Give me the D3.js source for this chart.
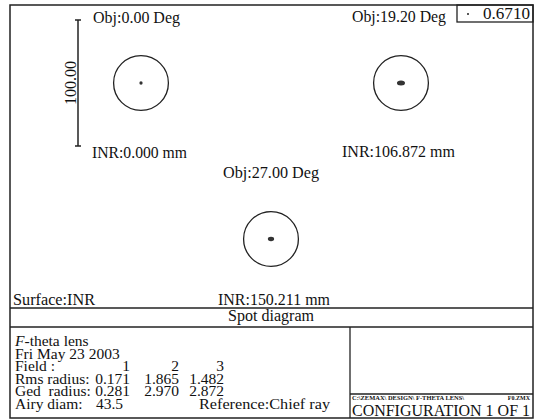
<!DOCTYPE html>
<html>
<head>
<meta charset="utf-8">
<script src="https://cdn.jsdelivr.net/npm/d3@7"></script>
<style>
  body { margin: 0; background: #fff; }
  svg { display: block; }
  text { font-family: "Liberation Serif", "Times New Roman", serif; fill: #111; }
</style>
</head>
<body>
<svg id="chart" width="538" height="420"></svg>
<script>
// Spot diagram data for the F-theta lens (three field points)
const fieldAngles = [0.00, 19.20, 27.00];          // object field, deg
const imageHeights = [0.000, 106.872, 150.211];    // image height on INR, mm
const rmsRadius = [0.171, 1.865, 1.482];           // µm
const geoRadius = [0.281, 2.970, 2.872];           // µm
const spotHalfWidth = [1.3, 3.2, 2.5];             // µm, visible spot blur (x)
const spotHalfHeight = [1.3, 2.0, 1.7];            // µm, visible spot blur (y)
const airyDiam = 43.5;                             // µm
const scaleBarLength = 100.00;                     // µm
const wavelengths = [0.6710];                      // µm
const fieldNumbers = [1, 2, 3];

const svg = d3.select("#chart");
const ink = "#222";

// Frame geometry
const frame = { left: 10, top: 5, right: 533, bottom: 418 };
const plotBottom = 308, titleBottom = 327, splitX = 350, configLine = 394;

// Micrometre to pixel scale shared by every spot panel
const um = d3.scaleLinear().domain([0, scaleBarLength]).range([0, 126]);

// Panel centres and label placement on the page
const panels = [
  { cx: 141, cy: 83, objX: 93, objW: 87, objY: 23, inrX: 92, inrW: 95, inrY: 158 },
  { cx: 401, cy: 83, objX: 352, objW: 94, objY: 22, inrX: 342, inrW: 113, inrY: 157 },
  { cx: 271, cy: 239, objX: 223, objW: 96, objY: 178, inrX: 218, inrW: 112, inrY: 305 }
];

// Outer frame and dividers
svg.append("rect")
  .attr("x", frame.left).attr("y", frame.top)
  .attr("width", frame.right - frame.left).attr("height", frame.bottom - frame.top)
  .attr("fill", "none").attr("stroke", ink).attr("stroke-width", 1.5);

svg.selectAll("line.h").data([plotBottom, titleBottom]).join("line").attr("class", "h")
  .attr("x1", frame.left).attr("x2", frame.right)
  .attr("y1", d => d).attr("y2", d => d)
  .attr("stroke", ink).attr("stroke-width", 1.3);
svg.append("line")
  .attr("x1", splitX).attr("x2", splitX).attr("y1", titleBottom).attr("y2", frame.bottom)
  .attr("stroke", ink).attr("stroke-width", 1.3);
svg.append("line")
  .attr("x1", splitX).attr("x2", frame.right).attr("y1", configLine).attr("y2", configLine)
  .attr("stroke", ink).attr("stroke-width", 1.3);

// Wavelength legend box
const legend = svg.append("g");
legend.append("rect")
  .attr("x", 457).attr("y", frame.top).attr("width", frame.right - 457).attr("height", 17)
  .attr("fill", "none").attr("stroke", ink).attr("stroke-width", 1.3);
legend.selectAll("circle").data(wavelengths).join("circle")
  .attr("cx", 468).attr("cy", 14).attr("r", 1).attr("fill", ink);
legend.selectAll("text").data(wavelengths).join("text")
  .attr("x", 483).attr("y", 19)
  .attr("textLength", 47).attr("lengthAdjust", "spacingAndGlyphs")
  .style("font-size", "16px").text(d => d3.format(".4f")(d));

// Scale bar
const barX = 78, barMid = panels[0].cy;
const bar = svg.append("g");
bar.append("line")
  .attr("x1", barX).attr("x2", barX)
  .attr("y1", barMid - um(scaleBarLength) / 2).attr("y2", barMid + um(scaleBarLength) / 2)
  .attr("stroke", ink).attr("stroke-width", 1.5);
bar.selectAll("line.tick").data([-1, 1]).join("line").attr("class", "tick")
  .attr("x1", barX - 3).attr("x2", barX + 3)
  .attr("y1", s => barMid + s * um(scaleBarLength) / 2)
  .attr("y2", s => barMid + s * um(scaleBarLength) / 2)
  .attr("stroke", ink).attr("stroke-width", 1.5);
bar.append("text")
  .attr("transform", `translate(${barX - 2},${barMid}) rotate(-90)`)
  .attr("text-anchor", "middle")
  .attr("textLength", 44).attr("lengthAdjust", "spacingAndGlyphs")
  .style("font-size", "17px")
  .text(d3.format(".2f")(scaleBarLength));

// Spot panels
const fields = fieldNumbers.map((n, i) => ({
  n, angle: fieldAngles[i], height: imageHeights[i],
  hw: spotHalfWidth[i], hh: spotHalfHeight[i], ...panels[i]
}));

const g = svg.selectAll("g.field").data(fields).join("g").attr("class", "field");
g.append("circle")
  .attr("cx", d => d.cx).attr("cy", d => d.cy)
  .attr("r", um(airyDiam / 2))
  .attr("fill", "none").attr("stroke", ink).attr("stroke-width", 1.3);
g.append("ellipse")
  .attr("cx", d => d.cx).attr("cy", d => d.cy)
  .attr("rx", d => um(d.hw)).attr("ry", d => um(d.hh))
  .attr("fill", "#333");
g.append("text")
  .attr("x", d => d.objX).attr("y", d => d.objY)
  .attr("textLength", d => d.objW).attr("lengthAdjust", "spacingAndGlyphs")
  .style("font-size", "17px")
  .text(d => `Obj:${d3.format(".2f")(d.angle)} Deg`);
g.append("text")
  .attr("x", d => d.inrX).attr("y", d => d.inrY)
  .attr("textLength", d => d.inrW).attr("lengthAdjust", "spacingAndGlyphs")
  .style("font-size", "17px")
  .text(d => `INR:${d3.format(".3f")(d.height)} mm`);

svg.append("text").attr("x", 13).attr("y", 305)
  .attr("textLength", 82).attr("lengthAdjust", "spacingAndGlyphs")
  .style("font-size", "17px").text("Surface:INR");
svg.append("text").attr("x", 228).attr("y", 321)
  .attr("textLength", 86).attr("lengthAdjust", "spacingAndGlyphs")
  .style("font-size", "16px").text("Spot diagram");

// Info block
const info = svg.append("g").style("font-size", "15.5px");
const infoX = 15;
const lineY = [346, 358.5, 371, 383.5, 396, 408.5];
const t0 = info.append("text").attr("x", infoX).attr("y", lineY[0]);
t0.append("tspan").style("font-style", "italic").text("F");
t0.append("tspan").text("-theta lens");
info.append("text").attr("x", infoX).attr("y", lineY[1]).text("Fri May 23 2003");
const colX = [130, 179, 224];
const rows = [
  { label: "Field :", vals: fieldNumbers.map(String), y: lineY[2] },
  { label: "Rms radius:", vals: rmsRadius.map(d3.format(".3f")), y: lineY[3] },
  { label: "Ged  radius:", vals: geoRadius.map(d3.format(".3f")), y: lineY[4] }
];
rows.forEach(r => {
  info.append("text").attr("x", infoX).attr("y", r.y).attr("xml:space", "preserve").text(r.label);
  info.selectAll(null).data(r.vals).join("text")
    .attr("x", (d, i) => colX[i]).attr("y", r.y).attr("text-anchor", "end").text(d => d);
});
info.append("text").attr("x", infoX).attr("y", lineY[5]).text("Airy diam:");
info.append("text").attr("x", colX[0] - 7).attr("y", lineY[5]).attr("text-anchor", "end")
  .text(d3.format(".1f")(airyDiam));
info.append("text").attr("x", 199).attr("y", lineY[5])
  .attr("textLength", 131).attr("lengthAdjust", "spacingAndGlyphs")
  .text("Reference:Chief ray");

// Configuration block
const cfg = svg.append("g");
cfg.append("text").attr("x", 352).attr("y", 400)
  .attr("textLength", 112).attr("lengthAdjust", "spacingAndGlyphs")
  .style("font-size", "6px").style("font-weight", "bold")
  .text("C:\\ZEMAX\\ DESIGN\\ F-THETA LENS\\");
cfg.append("text").attr("x", 530).attr("y", 400).attr("text-anchor", "end")
  .style("font-size", "6px").style("font-weight", "bold").text("F0.ZMX");
cfg.append("text").attr("x", 352).attr("y", 416)
  .attr("textLength", 178).attr("lengthAdjust", "spacingAndGlyphs")
  .style("font-size", "16px")
  .text("CONFIGURATION 1 OF 1");
</script>
</body>
</html>
